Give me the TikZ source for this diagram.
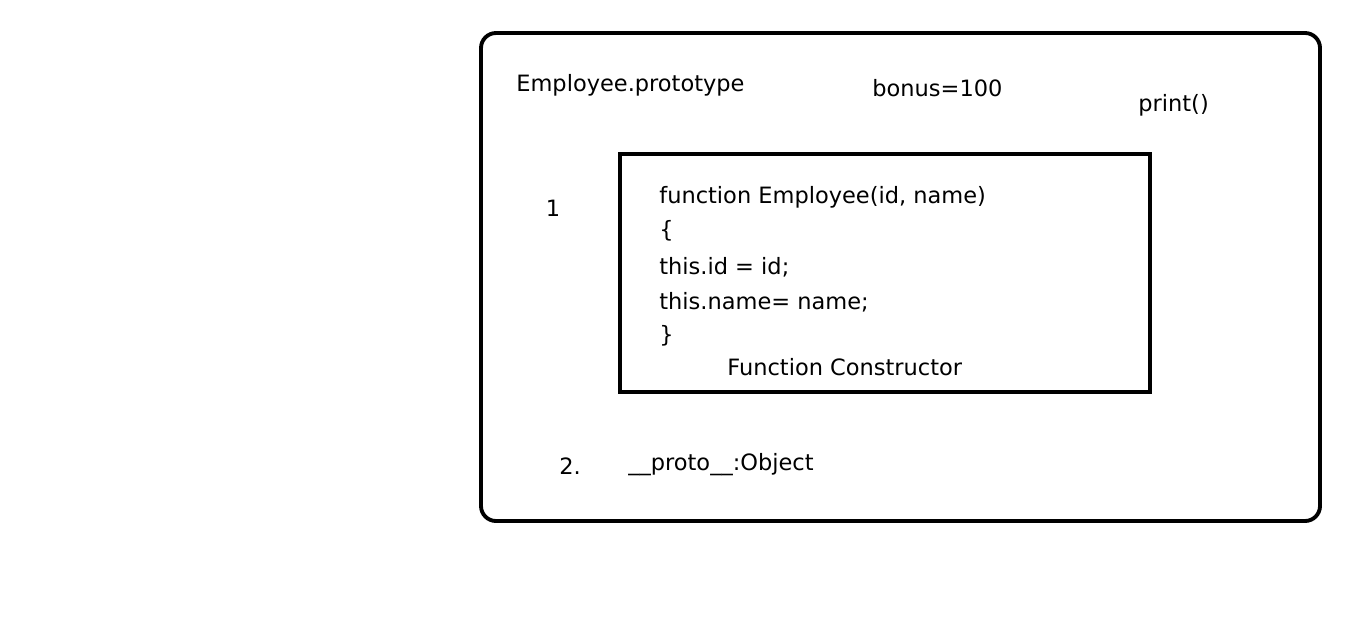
\documentclass[tikz,border=0pt]{standalone}
\usepackage{fontspec}
\setmainfont{DejaVu Sans}
\usepackage{tikz}
\usetikzlibrary{positioning}
\tikzset{
  txt/.style={inner sep=0pt, anchor=west, font=\fontsize{12.8}{15}\selectfont}
}

\begin{document}
\begin{tikzpicture}
\useasboundingbox (0,0) rectangle (27.14,-12.72);
\draw[line width=2.2pt, rounded corners=0.3cm] (9.62,-0.66) rectangle (26.40,-10.42);
\draw[line width=2.2pt] (12.40,-3.08) rectangle (23.00,-7.84);
\node[txt] (proto) at (10.32,-1.70) {Employee.prototype};
\node[txt] (bonus) at (17.44,-1.76) {bonus=100};
\node[txt] (print) at (22.76,-2.10) {print()};
\node[txt, anchor=center] (one) at (11.06,-4.16) {1};
\node[txt] (fn) at (13.18,-3.94) {function Employee(id, name)};
\node[txt] (open) at (13.18,-4.62) {\{};
\node[txt] (setid) at (13.18,-5.34) {this.id = id;};
\node[txt] (setname) at (13.18,-6.04) {this.name= name;};
\node[txt] (close) at (13.18,-6.72) {\}};
\node[txt] (ctor) at (14.54,-7.34) {Function Constructor};
\node[txt] (two) at (11.18,-9.32) {2.};
\node[txt] (link) at (12.56,-9.30) {\_\_proto\_\_:Object};
\end{tikzpicture}
\end{document}
